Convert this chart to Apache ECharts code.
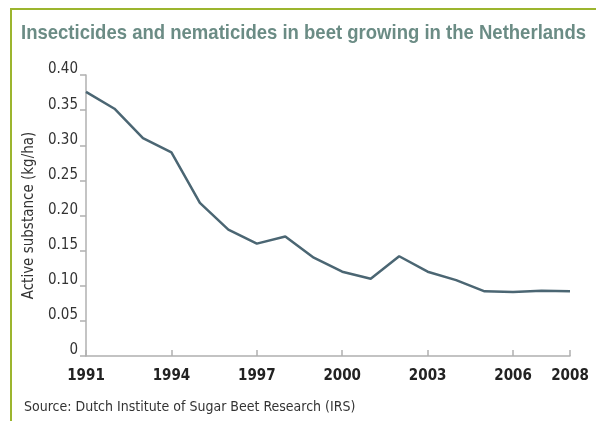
<!DOCTYPE html>
<html>
<head>
<meta charset="utf-8">
<script src="https://cdn.jsdelivr.net/npm/echarts@6/dist/echarts.min.js"></script>
<style>
  html, body { margin: 0; padding: 0; background: #fff; }
  #chart { width: 596px; height: 421px; }
</style>
</head>
<body>
<div id="chart"></div>
<script>
const years = ['1991', '1992', '1993', '1994', '1995', '1996', '1997', '1998', '1999',
  '2000', '2001', '2002', '2003', '2004', '2005', '2006', '2007', '2008']
const activeSubstance = [0.376, 0.352, 0.31, 0.29, 0.218, 0.18, 0.16, 0.17, 0.14,
  0.12, 0.11, 0.142, 0.12, 0.108, 0.092, 0.091, 0.093, 0.092]
const shownYears = ['1991', '1994', '1997', '2000', '2003', '2006', '2008']
const yTicks = ['0', '0.05', '0.10', '0.15', '0.20', '0.25', '0.30', '0.35', '0.40']

const titleText = 'Insecticides and nematicides in beet growing in the Netherlands'
const font = '"DejaVu Sans Condensed", "Liberation Sans", sans-serif'
const titleFont = 'bold 21px "Liberation Sans", Arial, sans-serif'

// squeeze the title so it spans the same width as in the print layout
const ctx = document.createElement('canvas').getContext('2d')
ctx.font = titleFont
const titleScale = 565 / ctx.measureText(titleText).width

const chart = echarts.init(document.getElementById('chart'))

chart.setOption({
  animation: false,
  backgroundColor: '#fff',
  graphic: [
    { type: 'line', shape: { x1: 10, y1: 9, x2: 596, y2: 9 }, style: { stroke: '#9cb52e', lineWidth: 2 } },
    { type: 'line', shape: { x1: 11, y1: 8, x2: 11, y2: 421 }, style: { stroke: '#9cb52e', lineWidth: 2 } },
    {
      type: 'text',
      x: 21,
      y: 23,
      scaleX: titleScale,
      style: { text: titleText, font: titleFont, fill: '#6b8c85', verticalAlign: 'top' },
    },
    {
      type: 'text',
      x: 24,
      y: 400,
      style: {
        text: 'Source: Dutch Institute of Sugar Beet Research (IRS)',
        font: '14px ' + font,
        fill: '#333',
        verticalAlign: 'top',
      },
    },
  ],
  grid: { left: 86, right: 26, top: 75, bottom: 65 },
  xAxis: {
    type: 'category',
    data: years,
    boundaryGap: false,
    axisLine: { lineStyle: { color: '#b0b0b0', width: 1.5 } },
    axisTick: {
      inside: true,
      length: 6,
      lineStyle: { color: '#b0b0b0', width: 1.5 },
      interval: (i, v) => shownYears.includes(v),
    },
    axisLabel: {
      margin: 13,
      fontFamily: font,
      fontSize: 15,
      fontWeight: 'bold',
      color: '#222',
      interval: (i, v) => shownYears.includes(v),
    },
  },
  yAxis: {
    type: 'value',
    min: 0,
    max: 0.4,
    interval: 0.05,
    name: 'Active substance (kg/ha)',
    nameLocation: 'middle',
    nameGap: 48,
    nameTextStyle: { fontFamily: font, fontSize: 15, color: '#333' },
    splitLine: { show: false },
    axisLine: { show: true, lineStyle: { color: '#b0b0b0', width: 1.5 } },
    axisTick: { show: true, length: 6, lineStyle: { color: '#b0b0b0', width: 1.5 } },
    axisLabel: {
      margin: 8,
      fontFamily: font,
      fontSize: 15,
      color: '#333',
      verticalAlign: 'bottom',
      lineHeight: 11,
      formatter: (v) => yTicks[Math.round(v / 0.05)],
    },
  },
  series: [
    {
      type: 'line',
      data: activeSubstance,
      symbol: 'none',
      lineStyle: { color: '#4b6673', width: 2.5 },
    },
  ],
})
</script>
</body>
</html>
